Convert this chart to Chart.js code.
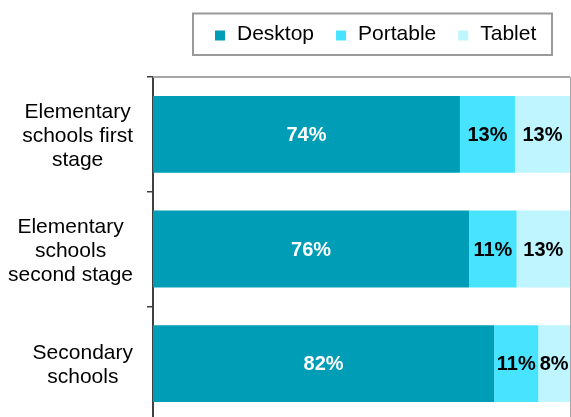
<!DOCTYPE html>
<html>
<head>
<meta charset="utf-8">
<script src="https://cdn.jsdelivr.net/npm/chart.js@4"></script>
<style>
  html, body { margin: 0; padding: 0; background: #fff; overflow: hidden; }
  #wrap { width: 571px; height: 422px; }
</style>
</head>
<body>
<div id="wrap"><canvas id="schoolChart"></canvas></div>
<script>
// categories (one array of lines per label)
const categories = [
    ['Elementary', 'schools first', 'stage'],
    ['Elementary', 'schools', 'second stage'],
    ['Secondary', 'schools']
];
const seriesNames = ['Desktop', 'Portable', 'Tablet'];
const desktop = [73.6, 75.8, 81.8];
const portable = [13.2, 11.4, 10.6];
const tablet = [13.2, 12.8, 7.6];
const colors = ['#009db6', '#48e4ff', '#bff5ff'];
const labelColors = ['#ffffff', '#000000', '#000000'];

const FONT = 'Arial, "Liberation Sans", sans-serif';

// legend box, frame lines, category labels and value labels
const extras = {
    id: 'extras',
    afterDraw(chart) {
        const ctx = chart.ctx;
        const area = chart.chartArea;
        const yScale = chart.scales.y;
        ctx.save();

        // top and right frame of the plot
        ctx.strokeStyle = '#a6a6a6';
        ctx.lineWidth = 2;
        ctx.beginPath();
        ctx.moveTo(area.left, area.top);
        ctx.lineTo(area.right, area.top);
        ctx.stroke();
        ctx.lineWidth = 1;
        ctx.beginPath();
        ctx.moveTo(area.right + 0.5, area.top);
        ctx.lineTo(area.right + 0.5, area.bottom);
        ctx.stroke();

        // category labels: block right-aligned, lines centered in block
        ctx.font = '21px ' + FONT;
        ctx.fillStyle = '#000';
        ctx.textAlign = 'center';
        ctx.textBaseline = 'middle';
        const blockRight = 133;
        const lineH = 24;
        categories.forEach((lines, i) => {
            const cy = yScale.getPixelForValue(i) + 2;
            const widest = Math.max(...lines.map(l => ctx.measureText(l).width));
            const cx = blockRight - widest / 2;
            const y0 = cy - (lines.length - 1) * lineH / 2;
            lines.forEach((l, j) => ctx.fillText(l, cx, y0 + j * lineH));
        });

        // value labels
        ctx.font = 'bold 20px ' + FONT;
        chart.data.datasets.forEach((ds, di) => {
            const meta = chart.getDatasetMeta(di);
            meta.data.forEach((bar, i) => {
                const p = bar.getProps(['x', 'y', 'base'], true);
                ctx.fillStyle = labelColors[di];
                ctx.fillText(Math.round(ds.data[i]) + '%', (p.x + p.base) / 2, p.y + 1);
            });
        });

        // legend
        ctx.font = '21px ' + FONT;
        ctx.textAlign = 'left';
        let x = 215;
        seriesNames.forEach((name, i) => {
            ctx.fillStyle = colors[i];
            ctx.fillRect(x, 30.5, 10, 10);
            ctx.fillStyle = '#000';
            ctx.fillText(name, x + 22, 34.5);
            x += 22 + ctx.measureText(name).width + 22;
        });
        ctx.strokeStyle = '#9a9a9a';
        ctx.lineWidth = 2;
        ctx.strokeRect(193, 13.5, 359, 41.5);

        ctx.restore();
    }
};

new Chart(document.getElementById('schoolChart'), {
    type: 'bar',
    data: {
        labels: categories,
        datasets: [
            { label: seriesNames[0], data: desktop, backgroundColor: colors[0] },
            { label: seriesNames[1], data: portable, backgroundColor: colors[1] },
            { label: seriesNames[2], data: tablet, backgroundColor: colors[2] }
        ]
    },
    options: {
        indexAxis: 'y',
        responsive: true,
        maintainAspectRatio: false,
        animation: false,
        layout: { padding: { top: 77, right: 1, bottom: 1, left: 0 } },
        datasets: {
            bar: { categoryPercentage: 0.67, barPercentage: 1, borderWidth: 0 }
        },
        plugins: {
            legend: { display: false },
            tooltip: { enabled: false }
        },
        scales: {
            x: { stacked: true, min: 0, max: 100, display: false },
            y: {
                stacked: true,
                afterFit(scale) { scale.width = 153; },
                ticks: { display: false },
                border: { display: true, color: '#404040', width: 2 },
                grid: { drawOnChartArea: false, drawTicks: true, tickLength: 6, color: '#404040', lineWidth: 1.5 }
            }
        }
    },
    plugins: [extras]
});
</script>
</body>
</html>
